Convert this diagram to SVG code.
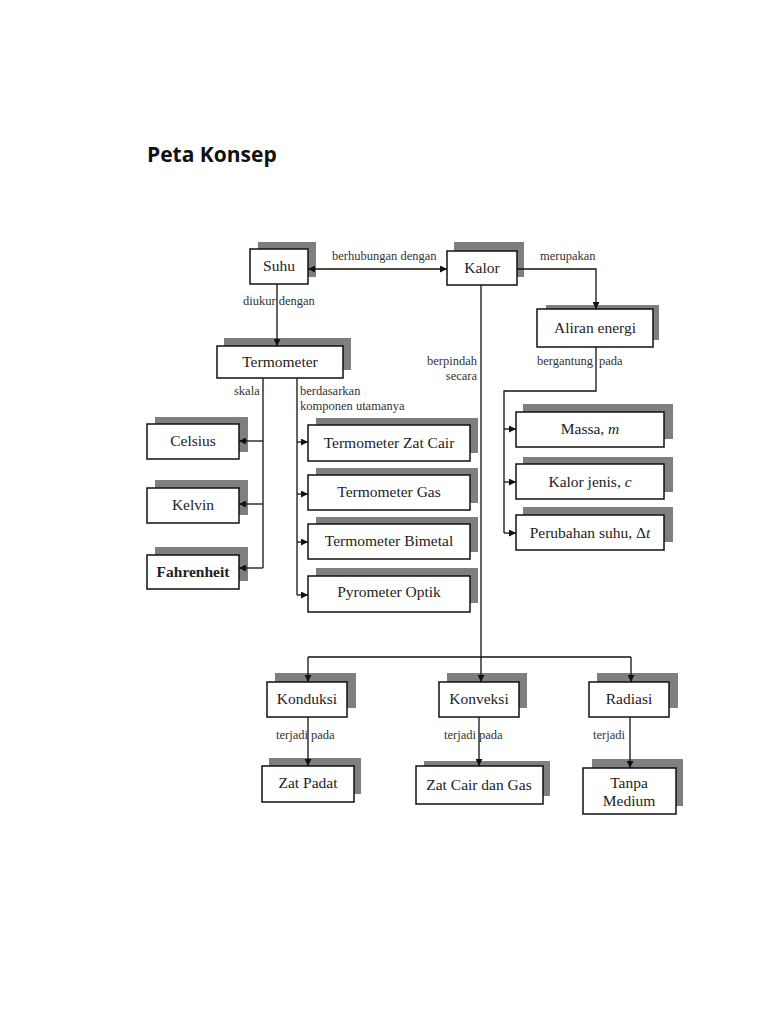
<svg xmlns="http://www.w3.org/2000/svg" width="768" height="1024" viewBox="0 0 768 1024">
<defs>
<marker id="ah" viewBox="0 0 8 8" refX="8" refY="4" markerWidth="7" markerHeight="7" markerUnits="userSpaceOnUse" orient="auto-start-reverse">
<path d="M0,0 L8,4 L0,8 z" fill="#111"/>
</marker>
<style>
.sh{fill:#7f7f7f;}
.bx{fill:#fff;stroke:#111;stroke-width:1.5;}
.nt{font-family:"Liberation Serif",serif;font-size:15.5px;fill:#222;text-anchor:middle;}
.lb{font-family:"Liberation Serif",serif;font-size:12.5px;fill:#333;}
.cn{fill:none;stroke:#111;stroke-width:1.3;}
</style>
</defs>
<rect width="768" height="1024" fill="#fff"/>
<text x="147" y="162" font-family="'Open Sans',sans-serif" font-weight="bold" font-size="21" fill="#111">Peta Konsep</text>

<g id="labels">
<text class="lb" x="332" y="260">berhubungan dengan</text>
<text class="lb" x="540" y="260">merupakan</text>
<text class="lb" x="243" y="305">diukur dengan</text>
<text class="lb" x="234" y="395">skala</text>
<text class="lb" x="300" y="395">berdasarkan</text>
<text class="lb" x="300" y="410">komponen utamanya</text>
<text class="lb" x="477" y="365" text-anchor="end">berpindah</text>
<text class="lb" x="477" y="380" text-anchor="end">secara</text>
<text class="lb" x="593" y="365" text-anchor="end">bergantung</text>
<text class="lb" x="599" y="365">pada</text>
<text class="lb" x="276" y="739">terjadi pada</text>
<text class="lb" x="444" y="739">terjadi pada</text>
<text class="lb" x="593" y="739">terjadi</text>
</g>

<g id="suhu"><rect class="sh" x="258" y="242" width="58" height="35"/><rect class="bx" x="250" y="249" width="58" height="35"/><text class="nt" x="279" y="271">Suhu</text></g>
<g id="kalor"><rect class="sh" x="454" y="242" width="70" height="35"/><rect class="bx" x="447" y="251" width="70" height="34"/><text class="nt" x="482" y="273">Kalor</text></g>
<g id="aliran"><rect class="sh" x="546" y="305" width="113" height="35"/><rect class="bx" x="537" y="309" width="116" height="38"/><text class="nt" x="595" y="333">Aliran energi</text></g>
<g id="termometer"><rect class="sh" x="224" y="338" width="127" height="32"/><rect class="bx" x="217" y="346" width="126" height="32"/><text class="nt" x="280" y="367">Termometer</text></g>
<g id="celsius"><rect class="sh" x="155" y="417" width="93" height="35"/><rect class="bx" x="147" y="424" width="92" height="35"/><text class="nt" x="193" y="446">Celsius</text></g>
<g id="kelvin"><rect class="sh" x="155" y="480" width="93" height="35"/><rect class="bx" x="147" y="488" width="92" height="35"/><text class="nt" x="193" y="510">Kelvin</text></g>
<g id="fahrenheit"><rect class="sh" x="155" y="547" width="93" height="34"/><rect class="bx" x="147" y="555" width="92" height="34"/><text class="nt" x="193" y="577" font-weight="bold" font-size="14.5">Fahrenheit</text></g>
<g id="t-zatcair"><rect class="sh" x="316" y="418" width="162" height="35"/><rect class="bx" x="308" y="425" width="162" height="36"/><text class="nt" x="389" y="448">Termometer Zat Cair</text></g>
<g id="t-gas"><rect class="sh" x="316" y="468" width="162" height="35"/><rect class="bx" x="308" y="475" width="162" height="35"/><text class="nt" x="389" y="497">Termometer Gas</text></g>
<g id="t-bimetal"><rect class="sh" x="316" y="517" width="162" height="35"/><rect class="bx" x="308" y="524" width="162" height="35"/><text class="nt" x="389" y="546">Termometer Bimetal</text></g>
<g id="pyrometer"><rect class="sh" x="316" y="568" width="162" height="35"/><rect class="bx" x="308" y="576" width="162" height="36"/><text class="nt" x="389" y="597">Pyrometer Optik</text></g>
<g id="massa"><rect class="sh" x="523" y="404" width="150" height="35"/><rect class="bx" x="516" y="412" width="148" height="35"/><text class="nt" x="590" y="434">Massa, <tspan font-style="italic">m</tspan></text></g>
<g id="kalorjenis"><rect class="sh" x="523" y="457" width="150" height="35"/><rect class="bx" x="516" y="464" width="148" height="35"/><text class="nt" x="590" y="487">Kalor jenis, <tspan font-style="italic">c</tspan></text></g>
<g id="perubahan"><rect class="sh" x="523" y="507" width="150" height="35"/><rect class="bx" x="516" y="515" width="148" height="35"/><text class="nt" x="590" y="538">Perubahan suhu, Δ<tspan font-style="italic">t</tspan></text></g>
<g id="konduksi"><rect class="sh" x="275" y="673" width="81" height="35"/><rect class="bx" x="267" y="682" width="80" height="35"/><text class="nt" x="307" y="704">Konduksi</text></g>
<g id="konveksi"><rect class="sh" x="447" y="673" width="80" height="35"/><rect class="bx" x="439" y="682" width="80" height="35"/><text class="nt" x="479" y="704">Konveksi</text></g>
<g id="radiasi"><rect class="sh" x="597" y="673" width="81" height="35"/><rect class="bx" x="589" y="682" width="80" height="35"/><text class="nt" x="629" y="704">Radiasi</text></g>
<g id="zatpadat"><rect class="sh" x="269" y="758" width="92" height="36"/><rect class="bx" x="262" y="766" width="92" height="36"/><text class="nt" x="308" y="788">Zat Padat</text></g>
<g id="zatcairgas"><rect class="sh" x="424" y="761" width="126" height="35"/><rect class="bx" x="416" y="766" width="127" height="38"/><text class="nt" x="479" y="790">Zat Cair dan Gas</text></g>
<g id="tanpamedium"><rect class="sh" x="592" y="759" width="91" height="47"/><rect class="bx" x="583" y="768" width="93" height="46"/><text class="nt" x="629" y="788">Tanpa</text><text class="nt" x="629" y="806">Medium</text></g>

<g id="connectors">
<line class="cn" x1="308" y1="269" x2="447" y2="269" marker-start="url(#ah)" marker-end="url(#ah)"/>
<line class="cn" x1="277" y1="284" x2="277" y2="346" marker-end="url(#ah)"/>
<path class="cn" d="M517,269 H596 V309" marker-end="url(#ah)"/>
<path class="cn" d="M596,347 V391 H504 V533"/>
<line class="cn" x1="504" y1="429" x2="516" y2="429" marker-end="url(#ah)"/>
<line class="cn" x1="504" y1="482" x2="516" y2="482" marker-end="url(#ah)"/>
<line class="cn" x1="504" y1="533" x2="516" y2="533" marker-end="url(#ah)"/>
<path class="cn" d="M263,378 V568"/>
<line class="cn" x1="263" y1="441" x2="239" y2="441" marker-end="url(#ah)"/>
<line class="cn" x1="263" y1="504" x2="239" y2="504" marker-end="url(#ah)"/>
<line class="cn" x1="263" y1="568" x2="239" y2="568" marker-end="url(#ah)"/>
<path class="cn" d="M297,378 V595"/>
<line class="cn" x1="297" y1="442" x2="308" y2="442" marker-end="url(#ah)"/>
<line class="cn" x1="297" y1="494" x2="308" y2="494" marker-end="url(#ah)"/>
<line class="cn" x1="297" y1="542" x2="308" y2="542" marker-end="url(#ah)"/>
<line class="cn" x1="297" y1="595" x2="308" y2="595" marker-end="url(#ah)"/>
<line class="cn" x1="481" y1="285" x2="481" y2="682" marker-end="url(#ah)"/>
<path class="cn" d="M308,657 H631"/>
<line class="cn" x1="308" y1="657" x2="308" y2="682" marker-end="url(#ah)"/>
<line class="cn" x1="631" y1="657" x2="631" y2="682" marker-end="url(#ah)"/>
<line class="cn" x1="308" y1="717" x2="308" y2="766" marker-end="url(#ah)"/>
<line class="cn" x1="479" y1="717" x2="479" y2="766" marker-end="url(#ah)"/>
<line class="cn" x1="630" y1="717" x2="630" y2="768" marker-end="url(#ah)"/>
</g>
</svg>
